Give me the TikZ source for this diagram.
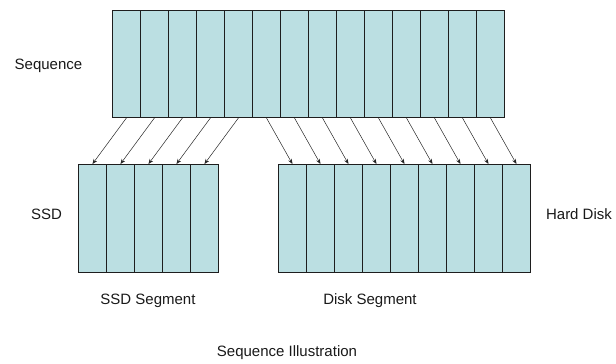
\documentclass[tikz,border=0pt]{standalone}
\usepackage{fontspec}
\setmainfont{Liberation Sans}
\usetikzlibrary{arrows.meta}
\definecolor{cellfill}{RGB}{187,223,226}
\definecolor{edge}{RGB}{30,30,30}
\tikzset{
  cell/.style={draw=edge, fill=cellfill, line width=0.9pt, inner sep=0pt,
               minimum width=28pt, anchor=north west},
  topcell/.style={cell, minimum height=107pt},
  lowcell/.style={cell, minimum height=108pt},
  conn/.style={draw=black!85, line width=0.5pt, -{Stealth[length=5pt,width=4pt]}},
  lbl/.style={font=\fontsize{15pt}{18pt}\selectfont, inner sep=0pt, text=black!90}
}
\begin{document}
\begin{tikzpicture}[x=1pt,y=-1pt]
\useasboundingbox (0,0) rectangle (616,364);
% top sequence
\foreach \i in {1,...,14} {
  \node[topcell] (t\i) at ({112+28*(\i-1)},10) {};
}
% SSD segment
\foreach \i in {1,...,5} {
  \node[lowcell] (s\i) at ({78+28*(\i-1)},164) {};
}
% Disk segment
\foreach \i in {1,...,9} {
  \node[lowcell] (d\i) at ({278+28*(\i-1)},164) {};
}
% connectors
\foreach \i in {1,...,5} {
  \draw[conn] (t\i.south) -- (s\i.north);
}
\foreach \i [evaluate=\i as \j using int(\i+5)] in {1,...,9} {
  \draw[conn] (t\j.south) -- (d\i.north);
}
% labels
\node[lbl] (lseq) at (48.5,66) {Sequence};
\node[lbl] (lssd) at (46.5,214) {SSD};
\node[lbl] (lhd) at (579,214) {Hard Disk};
\node[lbl] (lssdseg) at (148,301) {SSD Segment};
\node[lbl] (ldiskseg) at (370,301) {Disk Segment};
\node[lbl] (lill) at (287,353) {Sequence Illustration};
\end{tikzpicture}
\end{document}
